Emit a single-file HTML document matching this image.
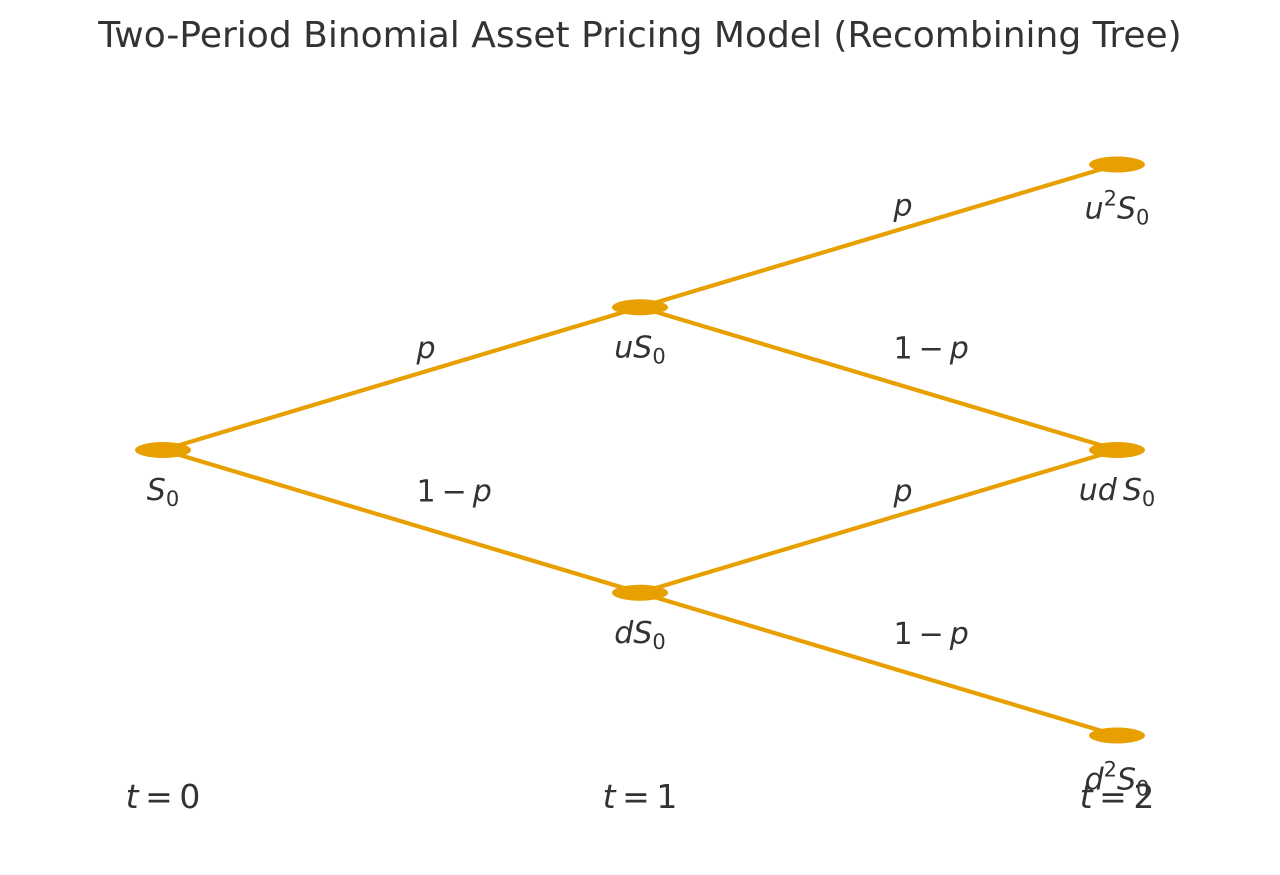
<!DOCTYPE html>
<html><head><meta charset="utf-8"><style>
body{margin:0;background:#fff;}
svg text{font-family:"DejaVu Sans","Liberation Sans",sans-serif;fill:#333;}
.i{font-style:italic;}
</style></head><body>
<svg width="1280" height="870" xmlns="http://www.w3.org/2000/svg">
<text x="640" y="47" font-size="36" text-anchor="middle">Two-Period Binomial Asset Pricing Model (Recombining Tree)</text>
<g id="edges"></g><g id="nodes"></g><g id="labels"></g>
</svg>
<script>
const nodeIds = ["S0","uS0","dS0","uuS0","udS0","ddS0"];
const nodePeriods = [0,1,1,2,2,2];
const nodeLevels = [0,1,-1,2,0,-2];
const nodeLabels = [
 [["S","i"],["0","sub"]],
 [["u","i"],["S","i"],["0","sub"]],
 [["d","i"],["S","i"],["0","sub"]],
 [["u","i"],["2","sup"],["S","i"],["0","sub"]],
 [["ud","i"],["\u2009",""],["S","i"],["0","sub"]],
 [["d","i"],["2","sup"],["S","i"],["0","sub"]]
];
const edgeFrom = [0,0,1,1,2,2];
const edgeTo = [1,2,3,4,4,5];
const edgeProbs = ["p","1-p","p","1-p","p","1-p"];
const timeLabels = ["0","1","2"];

const xs = t => 163 + t*477;
const ys = l => 450 - l*142.75;
const NS="http://www.w3.org/2000/svg";
const C="#e8a000";
function mk(tag,attrs,parent){const e=document.createElementNS(NS,tag);for(const k in attrs)e.setAttribute(k,attrs[k]);parent.appendChild(e);return e;}
const gE=document.getElementById("edges"),gN=document.getElementById("nodes"),gL=document.getElementById("labels");

edgeFrom.forEach((f,i)=>{
 const t=edgeTo[i];
 const x1=xs(nodePeriods[f]),y1=ys(nodeLevels[f]),x2=xs(nodePeriods[t]),y2=ys(nodeLevels[t]);
 const ln=mk("line",{x1,y1,x2,y2,stroke:C,"stroke-width":4.2},gE);
 
 
 const tx=mk("text",{x:(x1+x2)/2+15,y:(y1+y2)/2-20,"font-size":30},gL);
 
 
 if(edgeProbs[i]==="p"){mk("tspan",{class:"i"},tx).textContent="p";}
 else{mk("tspan",{},tx).textContent="1\u2009\u2212\u2009";mk("tspan",{class:"i"},tx).textContent="p";}
});

nodeIds.forEach((id,i)=>{
 const x=xs(nodePeriods[i]),y=ys(nodeLevels[i]);
 const el=mk("ellipse",{cx:x,cy:y,rx:28,ry:8,fill:C},gN);
 
 
 const hasSup = nodeLabels[i].some(p=>p[1]==="sup");
 const tx=mk("text",{x:x,y:y+50+(hasSup?4:0),"font-size":30,"text-anchor":"middle"},gL);
 
 
 let cur=0;
 nodeLabels[i].forEach(([s,c])=>{
  const target = c==="sub"?6 : c==="sup"?-13 : 0;
  const sp=mk("tspan",{dy:target-cur},tx);sp.textContent=s;cur=target;
  if(c==="i")sp.setAttribute("class","i");
  if(c==="sub"||c==="sup")sp.setAttribute("font-size","21");
 });
});

timeLabels.forEach((t,i)=>{
 const tx=mk("text",{x:xs(i),y:808,"font-size":33,"text-anchor":"middle"},gL);
 
 
 mk("tspan",{class:"i"},tx).textContent="t";
 mk("tspan",{},tx).textContent="\u2009=\u2009"+t;
});
</script>
</body></html>
